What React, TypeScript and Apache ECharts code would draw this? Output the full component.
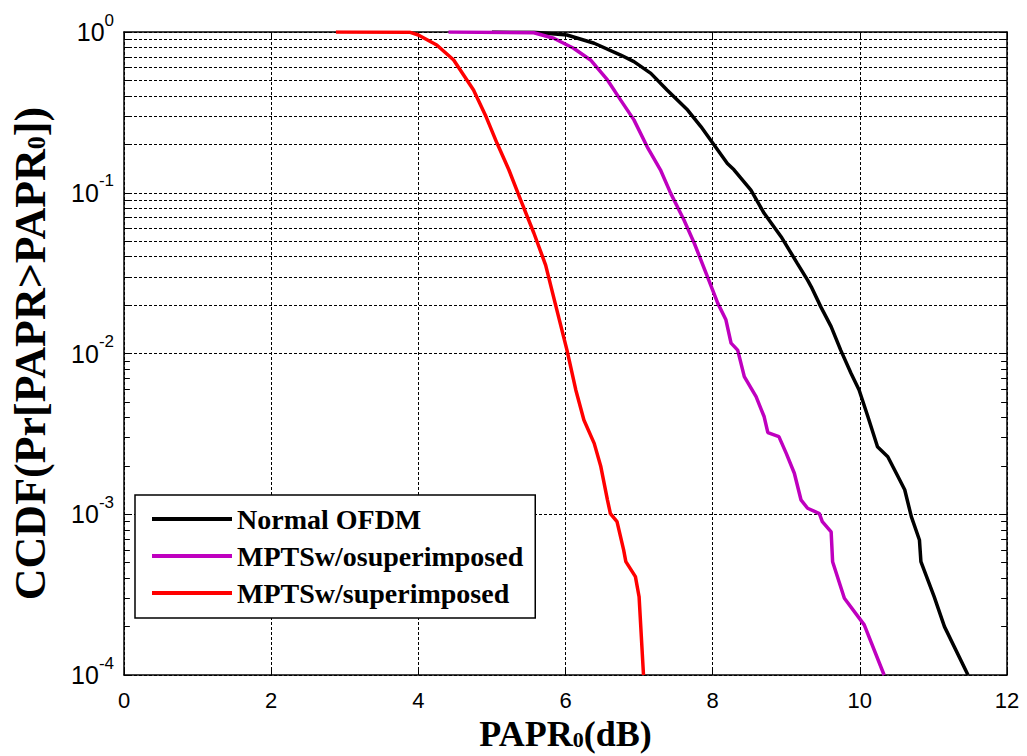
import React, { useEffect, useRef } from "react";
import * as echarts from "echarts";

// ---- Data ----
const xTicks = [0, 2, 4, 6, 8, 10, 12];
const seriesNames = ["Normal OFDM", "MPTSw/osuperimposed", "MPTSw/superimposed"];

const paprNormal = [5.0, 5.57, 6.02, 6.39, 6.75, 6.93, 7.16, 7.38, 7.66, 7.84, 8.02, 8.2, 8.29, 8.52, 8.7, 8.93, 9.15, 9.29, 9.34, 9.47, 9.61, 9.74, 9.88, 9.99, 10.11, 10.24, 10.38, 10.52, 10.61, 10.7, 10.81, 10.83, 11.01, 11.15, 11.47];
const ccdfNormal = [1, 0.995, 0.958, 0.851, 0.719, 0.654, 0.553, 0.436, 0.327, 0.258, 0.198, 0.152, 0.139, 0.104, 0.0745, 0.0533, 0.0364, 0.0286, 0.026, 0.0195, 0.0147, 0.0105, 0.00753, 0.00593, 0.00404, 0.00263, 0.00228, 0.00171, 0.00142, 0.000966, 0.000692, 0.000507, 0.000307, 0.0002, 0.0001];

const paprNoSup = [4.41, 5.57, 5.84, 6.11, 6.34, 6.57, 6.75, 6.93, 7.11, 7.29, 7.43, 7.61, 7.75, 7.93, 8.07, 8.18, 8.25, 8.34, 8.43, 8.59, 8.7, 8.75, 8.9, 9.0, 9.11, 9.2, 9.29, 9.45, 9.49, 9.61, 9.63, 9.79, 10.06, 10.33];
const ccdfNoSup = [1, 0.99, 0.914, 0.792, 0.67, 0.503, 0.377, 0.284, 0.193, 0.139, 0.0991, 0.0677, 0.0485, 0.03, 0.0205, 0.0162, 0.0116, 0.0105, 0.00718, 0.00539, 0.00404, 0.00322, 0.00304, 0.00239, 0.0018, 0.00123, 0.00109, 0.00101, 0.0009, 0.000778, 0.000507, 0.0003, 0.000205, 0.0001];

const paprSup = [2.88, 3.89, 4.0, 4.25, 4.48, 4.66, 4.75, 4.91, 5.07, 5.23, 5.39, 5.57, 5.73, 5.86, 6.02, 6.14, 6.25, 6.39, 6.48, 6.57, 6.61, 6.7, 6.79, 6.82, 6.95, 7.0, 7.06];
const ccdfSup = [1, 0.995, 0.958, 0.83, 0.67, 0.503, 0.436, 0.305, 0.203, 0.139, 0.0902, 0.0562, 0.0355, 0.0205, 0.0105, 0.00593, 0.00386, 0.00276, 0.00198, 0.00123, 0.00101, 0.0009, 0.0006, 0.000507, 0.000409, 0.000307, 0.0001];

const decades = [-4, -3, -2, -1];
const minorMultipliers = [2, 3, 4, 5, 6, 7, 8, 9];

const colors = ["#000000", "#BF00BF", "#FF0000"];

const pairs = (xs: number[], ys: number[]) => xs.map((x, i) => [x, ys[i]]);

export default function App() {
  const ref = useRef<HTMLDivElement>(null);

  useEffect(() => {
    if (!ref.current) return;
    const chart = echarts.init(ref.current, undefined, { renderer: "svg" });

    const minorVals: number[] = [];
    decades.forEach((d) => minorMultipliers.forEach((m) => minorVals.push(m * Math.pow(10, d))));

    const gridDash = [3, 2];
    const tickFont = "Liberation Sans, Arial, sans-serif";
    const serif = "Liberation Serif, Times New Roman, serif";

    const option: any = {
      animation: false,
      backgroundColor: "#ffffff",
      grid: { left: 124, right: 20, top: 32, bottom: 81, containLabel: false, outerBoundsMode: "none" },
      legend: {
        left: 135,
        top: 495,
        orient: "vertical",
        data: seriesNames,
        icon: "rect",
        itemWidth: 80,
        itemHeight: 4,
        itemGap: 9,
        padding: [10, 12, 11, 17],
        backgroundColor: "#ffffff",
        borderColor: "#000000",
        borderWidth: 1.5,
        borderRadius: 0,
        textStyle: { fontFamily: serif, fontWeight: "bold", fontSize: 28, color: "#000", lineHeight: 28 },
        z: 10,
      },
      xAxis: [
        {
          type: "value",
          min: 0,
          max: 12,
          interval: 2,
          position: "bottom",
          axisLine: { show: true, onZero: false, lineStyle: { color: "#000", width: 1.5 } },
          axisTick: { show: true, inside: true, length: 8, lineStyle: { color: "#000" } },
          axisLabel: { color: "#000", fontSize: 22, fontFamily: tickFont, margin: 14 },
          splitLine: { show: true, lineStyle: { color: "#000", type: gridDash, width: 1 } },
          name: "PAPR{sub|0}(dB)",
          nameLocation: "middle",
          nameGap: 38,
          nameTextStyle: {
            fontFamily: serif,
            fontWeight: "bold",
            fontSize: 36,
            color: "#000",
            rich: { sub: { fontFamily: serif, fontWeight: "bold", fontSize: 22, color: "#000", padding: [12, 0, 0, 0] } },
          },
        },
        {
          type: "value",
          min: 0,
          max: 12,
          interval: 2,
          position: "top",
          axisLine: { show: true, onZero: false, lineStyle: { color: "#000", width: 1.5 } },
          axisTick: { show: true, inside: true, length: 8, lineStyle: { color: "#000" } },
          axisLabel: { show: false },
          splitLine: { show: false },
        },
      ],
      yAxis: [
        {
          type: "log",
          logBase: 10,
          min: 1e-4,
          max: 1,
          position: "left",
          axisLine: { show: true, onZero: false, lineStyle: { color: "#000", width: 1.5 } },
          axisTick: { show: true, inside: true, length: 8, lineStyle: { color: "#000" } },
          axisLabel: {
            color: "#000",
            fontSize: 25,
            fontFamily: tickFont,
            margin: 10,
            formatter: (v: number) => `{b|10}{s|${Math.round(Math.log10(v))}}`,
            rich: {
              b: { fontSize: 25, fontFamily: tickFont, color: "#000" },
              s: { fontSize: 17, fontFamily: tickFont, color: "#000", padding: [0, 0, 24, 0] },
            },
          },
          splitLine: { show: true, lineStyle: { color: "#000", type: gridDash, width: 1 } },
          name: "CCDF(Pr[PAPR>PAPR{sub|0}])",
          nameLocation: "middle",
          nameGap: 72,
          nameRotate: 90,
          nameTextStyle: {
            fontFamily: serif,
            fontWeight: "bold",
            fontSize: 44,
            color: "#000",
            rich: { sub: { fontFamily: serif, fontWeight: "bold", fontSize: 26, color: "#000", padding: [12, 0, 0, 0] } },
          },
        },
        {
          type: "log",
          logBase: 10,
          min: 1e-4,
          max: 1,
          position: "right",
          axisLine: { show: true, onZero: false, lineStyle: { color: "#000", width: 1.5 } },
          axisTick: { show: true, inside: true, length: 8, lineStyle: { color: "#000" } },
          axisLabel: { show: false },
          splitLine: { show: false },
        },
      ],
      series: [
        {
          name: "__grid",
          type: "line",
          data: [],
          z: 1,
          silent: true,
          markLine: {
            silent: true,
            symbol: "none",
            label: { show: false },
            animation: false,
            lineStyle: { color: "#000", type: gridDash, width: 1 },
            data: minorVals.map((v) => ({ yAxis: v })),
          },
        },
        {
          name: "__ticks",
          type: "line",
          data: [],
          z: 1,
          silent: true,
          markLine: {
            silent: true,
            symbol: "none",
            label: { show: false },
            animation: false,
            lineStyle: { color: "#000", type: "solid", width: 1 },
            data: [
              ...minorVals.map((v) => [{ coord: [0, v] }, { coord: [0.08, v] }]),
              ...minorVals.map((v) => [{ coord: [11.92, v] }, { coord: [12, v] }]),
            ],
          },
        },
        {
          name: seriesNames[0],
          type: "line",
          data: pairs(paprNormal, ccdfNormal),
          showSymbol: false,
          symbol: "none",
          lineStyle: { color: colors[0], width: 3.5 },
          itemStyle: { color: colors[0] },
          z: 3,
        },
        {
          name: seriesNames[1],
          type: "line",
          data: pairs(paprNoSup, ccdfNoSup),
          showSymbol: false,
          symbol: "none",
          lineStyle: { color: colors[1], width: 3.5 },
          itemStyle: { color: colors[1] },
          z: 4,
        },
        {
          name: seriesNames[2],
          type: "line",
          data: pairs(paprSup, ccdfSup),
          showSymbol: false,
          symbol: "none",
          lineStyle: { color: colors[2], width: 3.5 },
          itemStyle: { color: colors[2] },
          z: 5,
        },
      ],
    };

    chart.setOption(option);
    return () => chart.dispose();
  }, []);

  return (
    <div
      ref={ref}
      style={{ position: "fixed", left: 0, top: 0, width: 1027, height: 756, background: "#fff" }}
    />
  );
}
